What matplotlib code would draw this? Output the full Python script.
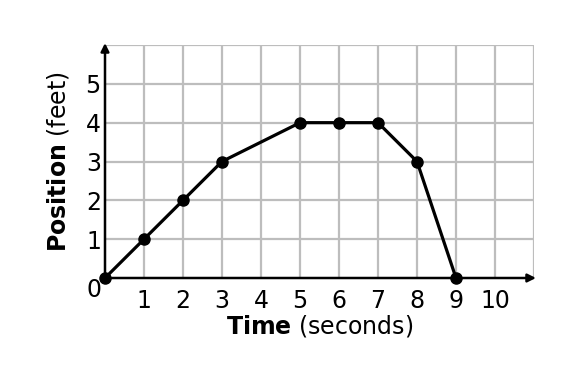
import matplotlib
matplotlib.use("Agg")
import matplotlib.pyplot as plt

time_s = [0, 1, 2, 3, 5, 6, 7, 8, 9]
position_ft = [0, 1, 2, 3, 4, 4, 4, 3, 0]
x_ticks = [1, 2, 3, 4, 5, 6, 7, 8, 9, 10]
y_ticks = [1, 2, 3, 4, 5]

plt.rcParams['font.family'] = ['DejaVu Sans']
plt.rcParams['mathtext.fontset'] = 'dejavusans'

FS = 17

fig = plt.figure(figsize=(5.86, 3.74), dpi=100)
ax = fig.add_axes([105/586, 1-278/374, 429/586, 233/374])
ax.set_xlim(0, 11)
ax.set_ylim(0, 6)

grid_c = '#bdbdbd'
for gx in range(1, 12):
    ax.axvline(gx, color=grid_c, lw=1.6, zorder=1)
for gy in range(1, 7):
    ax.axhline(gy, color=grid_c, lw=1.6, zorder=1)

for s in ax.spines.values():
    s.set_visible(False)

# axes with arrows
ax.annotate('', xy=(11.05, 0), xytext=(0, 0), xycoords='data',
            arrowprops=dict(arrowstyle='-|>', color='black', lw=1.8,
                            mutation_scale=12, shrinkA=0, shrinkB=0), zorder=3,
            annotation_clip=False)
ax.annotate('', xy=(0, 6.05), xytext=(0, 0), xycoords='data',
            arrowprops=dict(arrowstyle='-|>', color='black', lw=1.8,
                            mutation_scale=12, shrinkA=0, shrinkB=0), zorder=3,
            annotation_clip=False)

ax.plot(time_s, position_ft, color='black', lw=2.3, marker='o', ms=8,
        clip_on=False, zorder=4)

ax.set_xticks(x_ticks)
ax.set_xticklabels([str(v) for v in x_ticks], fontsize=FS)
ax.set_yticks(y_ticks)
ax.set_yticklabels([str(v) for v in y_ticks], fontsize=FS)
ax.tick_params(length=0)
ax.tick_params(axis='x', pad=8)
ax.tick_params(axis='y', pad=3)
ax.text(-0.28, -0.30, '0', fontsize=FS, ha='center', va='center')

ax.text(0.5, -0.205, r'$\bf{Time}$ (seconds)', fontsize=FS, ha='center',
        va='center', transform=ax.transAxes)
ax.text(-0.11, 0.5, r'$\bf{Position}$ (feet)', fontsize=FS, ha='center',
        va='center', rotation=90, transform=ax.transAxes)

fig.savefig('out.png', dpi=100)
